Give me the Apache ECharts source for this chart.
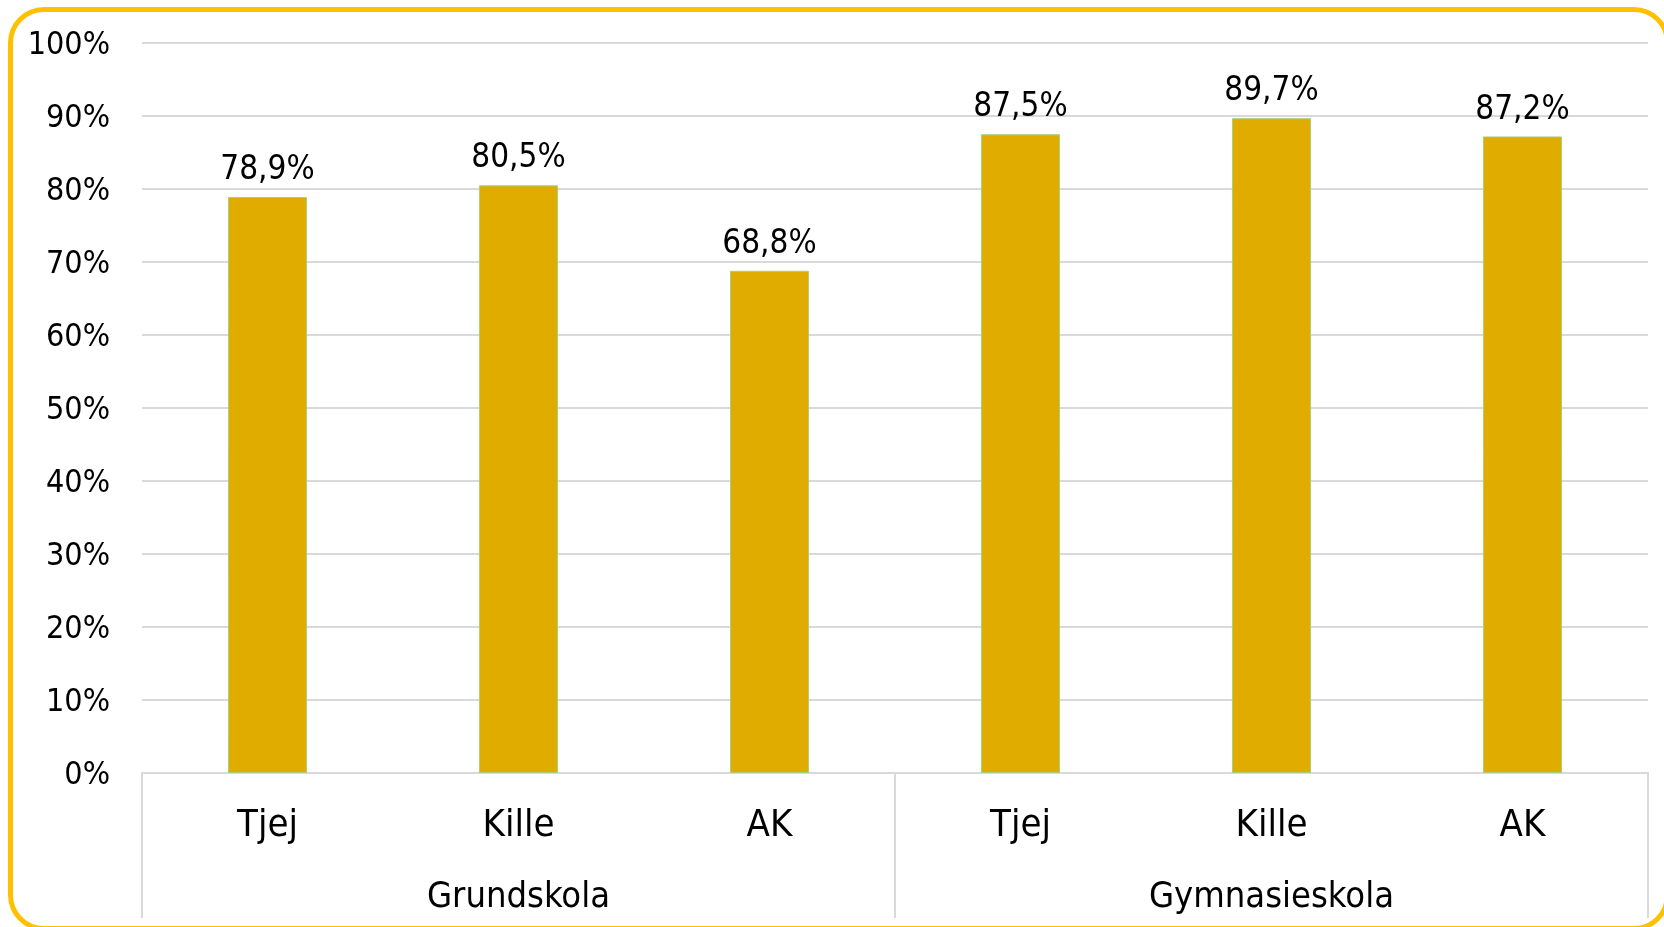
<!DOCTYPE html>
<html>
<head>
<meta charset="utf-8">
<script src="https://cdn.jsdelivr.net/npm/echarts@6/dist/echarts.min.js"></script>
<style>
html,body{margin:0;padding:0;width:1664px;height:927px;overflow:hidden;background:#fff;}
#frame{position:absolute;left:8px;top:7px;width:1652px;height:914px;border:5px solid #FFC000;border-radius:36px;box-sizing:content-box;}
#chart{position:absolute;left:0;top:0;width:1664px;height:927px;}
</style>
</head>
<body>
<div id="frame"></div>
<div id="chart"></div>
<script>
const categories = ['Tjej', 'Kille', 'AK', 'Tjej', 'Kille', 'AK'];
const groups = ['Grundskola', 'Gymnasieskola'];
const values = [78.9, 80.5, 68.8, 87.5, 89.7, 87.2];
const yTicks = [0, 10, 20, 30, 40, 50, 60, 70, 80, 90, 100];

const FONT = '"DejaVu Sans Condensed", "DejaVu Sans", sans-serif';
const chart = echarts.init(document.getElementById('chart'), null, {renderer: 'canvas'});
chart.setOption({
  animation: false,
  grid: {left: 142, right: 16, top: 43, bottom: 154, containLabel: false},
  xAxis: [
    {
      type: 'category',
      data: categories,
      position: 'bottom',
      axisLine: {show: true, lineStyle: {color: '#D9D9D9', width: 2}},
      axisTick: {show: false},
      axisLabel: {color: '#000', fontFamily: FONT, fontSize: 38, margin: 34}
    },
    {
      type: 'category',
      data: groups,
      position: 'bottom',
      axisLine: {show: false},
      axisTick: {show: true, length: 145, alignWithLabel: false, lineStyle: {color: '#D9D9D9', width: 2}},
      axisLabel: {color: '#000', fontFamily: FONT, fontSize: 36, margin: 107}
    }
  ],
  yAxis: {
    type: 'value',
    min: yTicks[0],
    max: yTicks[yTicks.length - 1],
    interval: 10,
    axisLine: {show: false},
    axisTick: {show: false},
    splitLine: {lineStyle: {color: '#D9D9D9', width: 2}},
    axisLabel: {color: '#000', fontFamily: FONT, fontSize: 32, margin: 32,
      formatter: v => '{a|' + v + '%}',
      rich: {a: {color: '#000', fontFamily: FONT, fontSize: 32, padding: [6, 0, 0, 0]}}}
  },
  series: [{
    type: 'bar',
    xAxisIndex: 0,
    data: values,
    barWidth: '31.5%',
    itemStyle: {color: '#E0AC00', borderColor: '#A9CF7E', borderWidth: 1},
    label: {show: true, position: 'top', distance: 10, color: '#000', fontFamily: FONT, fontSize: 33,
      formatter: p => p.value.toFixed(1).replace('.', ',') + '%'}
  }]
});
</script>
</body>
</html>
